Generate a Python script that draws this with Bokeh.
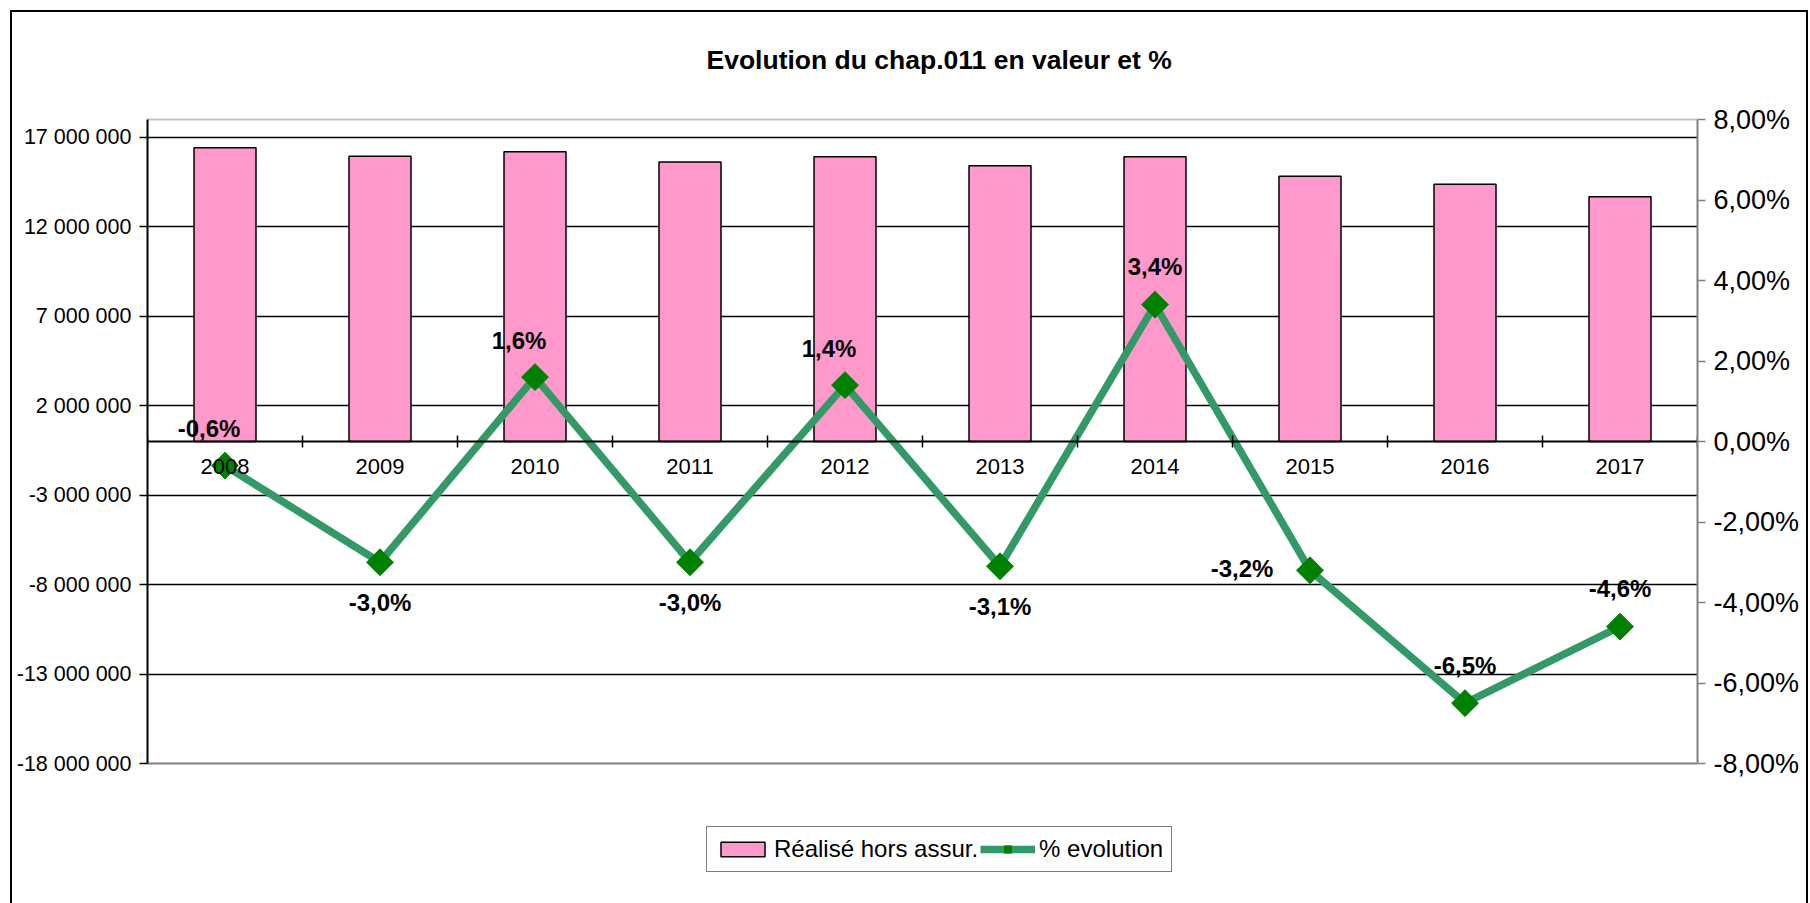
import math
from bokeh.plotting import figure
from bokeh.models import (Range1d, LinearAxis, FixedTicker, CustomJSTickFormatter,
                          Legend, LegendItem, ColumnDataSource, InlineStyleSheet, Grid)
from bokeh.embed import file_html
from bokeh.resources import INLINE
from bokeh.core.properties import value

# ---------------- data ----------------
years = ["2008", "2009", "2010", "2011", "2012", "2013", "2014", "2015", "2016", "2017"]
realise_hors_assur = [16420000, 15950000, 16200000, 15630000, 15920000,
                      15420000, 15920000, 14830000, 14380000, 13680000]
pct_evolution = [-0.6, -3.0, 1.6, -3.0, 1.4, -3.1, 3.4, -3.2, -6.5, -4.6]
label_side = ["above-left", "below", "above-left", "below", "above-left",
              "below", "above", "left", "above", "above"]
left_ticks = [-18000000, -13000000, -8000000, -3000000, 2000000, 7000000, 12000000, 17000000]
left_bounds = (-18000000, 18000000)
right_ticks = [-8, -6, -4, -2, 0, 2, 4, 6, 8]
right_bounds = (-8, 8)

title_text = "Evolution du chap.011 en valeur et %"
FONT = "Liberation Sans"

# ---------------- layout (pixels) ----------------
W, H = 1810, 903
FRAME_LEFT = 147
FRAME_TOP, FRAME_BOTTOM = 100, 893       # frame extends below plot area (room for legend)
AREA_TOP, AREA_BOTTOM = 119, 763         # plot area (axis bounds)


def padded(lo, hi):
    per_px = (hi - lo) / (AREA_BOTTOM - AREA_TOP)
    return Range1d(lo - (FRAME_BOTTOM - AREA_BOTTOM) * per_px,
                   hi + (AREA_TOP - FRAME_TOP) * per_px)


# ---------------- derived ----------------
xs = [i + 0.5 for i in range(len(years))]
side_offsets = {"above": (0, -38), "above-left": (-16, -37), "below": (0, 40), "left": (-68, -2)}
labels = [("%.1f%%" % v).replace(".", ",") for v in pct_evolution]
src = ColumnDataSource(dict(
    x=xs, year=years, val=realise_hors_assur, pct=pct_evolution, lab=labels,
    dx=[side_offsets[s][0] for s in label_side],
    dy=[side_offsets[s][1] for s in label_side],
))

p = figure(width=W, height=H, x_range=Range1d(0, len(years)),
           y_range=padded(*left_bounds),
           output_backend="svg", toolbar_location=None,
           min_border_left=FRAME_LEFT, min_border_right=113,
           min_border_top=FRAME_TOP, min_border_bottom=H - FRAME_BOTTOM)
p.extra_y_ranges = {"pct": padded(*right_bounds)}

p.title.text = title_text
p.title.align = "left"
p.title.offset = 706 - FRAME_LEFT
p.title.vertical_align = "bottom"
p.title.text_font = FONT
p.title.text_font_size = "26.5px"
p.title.text_font_style = "bold"
p.title.text_color = "black"
p.title.standoff = 52

p.background_fill_color = "white"
p.border_fill_color = "white"
p.outline_line_color = None
p.stylesheets = [InlineStyleSheet(css="""
:host::after {
  content: "";
  position: absolute;
  left: 10px; top: 10px; right: 2px; bottom: 0px;
  border-left: 2px solid black; border-top: 2px solid black; border-right: 2px solid black;
  pointer-events: none;
  z-index: 100;
}
""")]

# grid
p.xgrid.visible = False
p.ygrid.ticker = FixedTicker(ticks=left_ticks[1:])
p.ygrid.grid_line_color = "black"
p.ygrid.grid_line_width = 1.3
top_edge = Grid(dimension=1, ticker=FixedTicker(ticks=[left_bounds[1]]),
                grid_line_color="#c4c4c4", grid_line_width=2)
bottom_edge = Grid(dimension=1, ticker=FixedTicker(ticks=[left_bounds[0]]),
                   grid_line_color="#808080", grid_line_width=2)
p.add_layout(top_edge)
p.add_layout(bottom_edge)

# bars
bars = p.vbar(x="x", top="val", bottom=0, width=0.4, source=src,
              fill_color="#FF99CC", line_color="black", line_width=1.5)

# line + markers
line = p.line(x="x", y="pct", y_range_name="pct", source=src,
              line_color="#339966", line_width=7.5, line_join="round")
marks = p.scatter(x="x", y="pct", y_range_name="pct", source=src,
                  marker="square", angle=math.pi / 4, size=19,
                  fill_color="#008000", line_color="#008000")

# data labels
p.text(x="x", y="pct", text="lab", y_range_name="pct", source=src,
       x_offset="dx", y_offset="dy", text_align="center", text_baseline="middle",
       text_font=value(FONT), text_font_size="24px", text_font_style="bold",
       text_color="black")

# x axis at zero
xa = p.xaxis[0]
xa.ticker = FixedTicker(ticks=xs, minor_ticks=list(range(0, len(years) + 1)))
xa.formatter = CustomJSTickFormatter(args=dict(labels=years),
                                     code="return labels[Math.floor(tick)]")
xa.fixed_location = 0
xa.axis_line_color = "black"
xa.axis_line_width = 2
xa.major_tick_line_color = None
xa.minor_tick_line_color = "black"
xa.minor_tick_line_width = 1.5
xa.minor_tick_in = 6
xa.minor_tick_out = 6
xa.major_label_text_font = FONT
xa.major_label_text_font_size = "22px"
xa.major_label_text_color = "black"
xa.major_label_standoff = 11

# left axis
ya = p.yaxis[0]
ya.bounds = left_bounds
ya.ticker = FixedTicker(ticks=left_ticks)
ya.formatter = CustomJSTickFormatter(code="""
const s = Math.round(tick).toString();
return s.replace(/\\B(?=(\\d{3})+(?!\\d))/g, " ");
""")
ya.axis_line_color = "black"
ya.axis_line_width = 2
ya.major_tick_line_color = "black"
ya.major_tick_line_width = 1.5
ya.major_tick_in = 0
ya.major_tick_out = 8
ya.minor_tick_line_color = None
ya.major_label_text_font = FONT
ya.major_label_text_font_size = "21.5px"
ya.major_label_text_color = "black"
ya.major_label_standoff = 8

# right axis
ra = LinearAxis(y_range_name="pct", ticker=FixedTicker(ticks=right_ticks),
                bounds=right_bounds,
                formatter=CustomJSTickFormatter(
                    code='return tick.toFixed(2).replace(".", ",") + "%";'))
ra.axis_line_color = "#808080"
ra.axis_line_width = 2
ra.major_tick_line_color = "#808080"
ra.major_tick_line_width = 1.5
ra.major_tick_in = 0
ra.major_tick_out = 8
ra.minor_tick_line_color = None
ra.major_label_text_font = FONT
ra.major_label_text_font_size = "27px"
ra.major_label_text_color = "black"
ra.major_label_standoff = 8
p.add_layout(ra, "right")

# legend (inside the extended frame, below the plot area)
legend = Legend(items=[LegendItem(label="Réalisé hors assur.", renderers=[bars]),
                       LegendItem(label="% evolution", renderers=[line, marks])],
                orientation="horizontal", location=(559, 21),
                label_text_font=FONT, label_text_font_size="24px",
                label_text_color="black",
                glyph_width=55, glyph_height=18, label_standoff=4, spacing=2,
                padding=8, margin=0,
                border_line_color="black", border_line_width=1.5,
                background_fill_color="white", background_fill_alpha=1.0)
p.add_layout(legend)

open("out.html", "w").write(file_html(p, INLINE))
